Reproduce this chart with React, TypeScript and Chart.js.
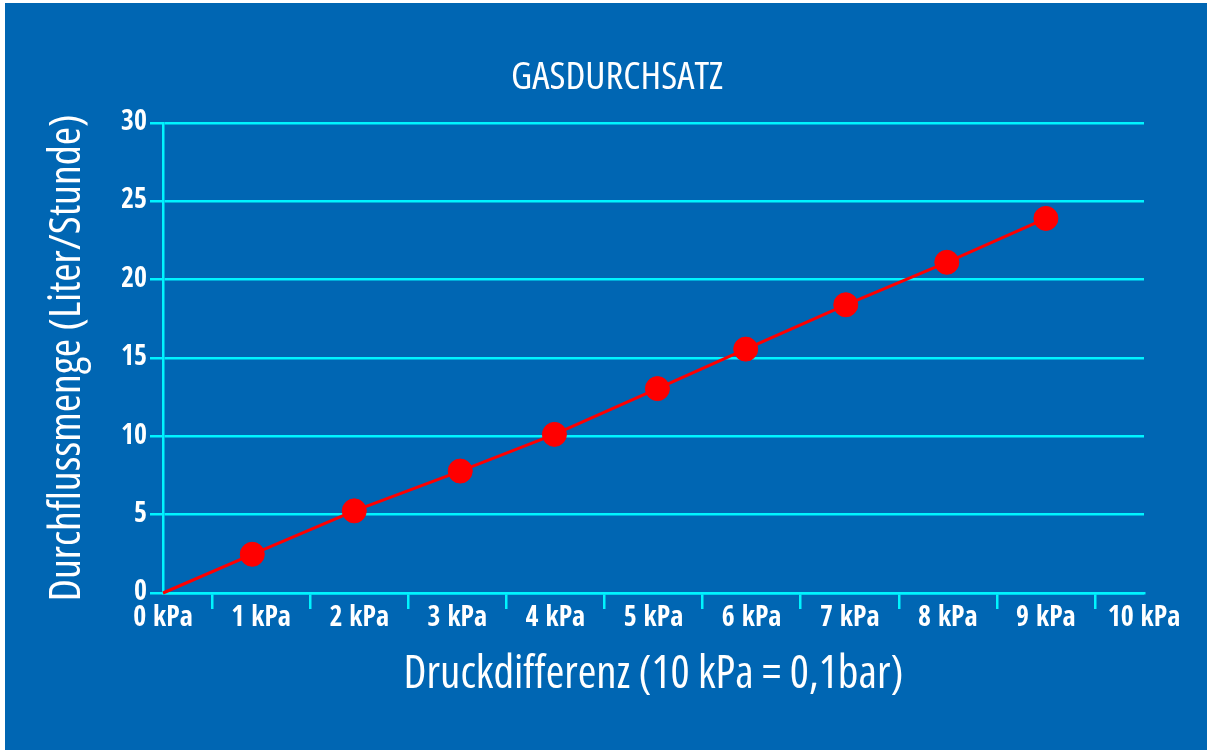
import React, { useEffect, useRef } from "react";
import { Chart, registerables } from "chart.js";

Chart.register(...registerables);

// ---- data ----
const chartTitle = "GASDURCHSATZ";
const xAxisTitle = "Druckdifferenz (10 kPa = 0,1bar)";
const yAxisTitle = "Durchflussmenge (Liter/Stunde)";
const pressureKPa = [0, 0.91, 1.95, 3.03, 3.99, 5.04, 5.94, 6.96, 7.99, 9.0];
const flowLiterPerHour = [0, 2.47, 5.24, 7.78, 10.12, 13.04, 15.56, 18.39, 21.1, 23.9];
const xMin = 0;
const xMax = 10;
const xStep = 1;
const yMin = 0;
const yMax = 30;
const yStep = 5;
const xTickUnit = "kPa";

// ---- style ----
const BG = "#0066b3";
const GRID = "#00f4ff";
const RED = "#ff0000";
const WHITE = "#ffffff";
const TEXT_FONT = "'Open Sans', 'Roboto Condensed', sans-serif";
const TICK_FONT = "'Open Sans Condensed', 'Roboto Condensed', sans-serif";
const W = 1202;
const H = 747;

const bgPlugin = {
  id: "bgFill",
  beforeDraw(chart: any) {
    const { ctx, width, height } = chart;
    ctx.save();
    ctx.fillStyle = BG;
    ctx.fillRect(0, 0, width, height);
    ctx.restore();
  },
};

export default function App() {
  const ref = useRef<HTMLCanvasElement | null>(null);

  useEffect(() => {
    document.body.style.margin = "0";
    if (!ref.current) return;
    const data = pressureKPa.map((x, i) => ({ x, y: flowLiterPerHour[i] }));
    const radii = data.map((_, i) => (i === 0 ? 0 : 12));
    const chart = new Chart(ref.current, {
      type: "line",
      data: {
        datasets: [
          {
            data,
            borderColor: RED,
            backgroundColor: RED,
            borderWidth: 3,
            pointRadius: radii,
            pointHoverRadius: radii,
            pointBorderWidth: 1,
            pointBorderColor: RED,
            pointBackgroundColor: RED,
            tension: 0,
            clip: false as any,
          },
        ],
      },
      options: {
        responsive: false,
        animation: false,
        devicePixelRatio: 1,
        layout: { padding: { left: 85, top: 0, right: 63, bottom: 0 } },
        plugins: {
          legend: { display: false },
          tooltip: { enabled: false },
          title: {
            display: true,
            text: chartTitle,
            color: WHITE,
            font: { family: TEXT_FONT, size: 39, weight: "500 condensed", lineHeight: 1.2 },
            padding: { top: 51, bottom: 22 },
          },
        },
        scales: {
          x: {
            type: "linear",
            min: xMin,
            max: xMax,
            afterFit(scale: any) {
              scale.height = 157;
            },
            ticks: {
              stepSize: xStep,
              color: WHITE,
              padding: -7,
              maxRotation: 0,
              autoSkip: false,
              font: { family: TICK_FONT, size: 28, weight: "bold", lineHeight: 1.2 },
              callback: (v: any) => `${v} ${xTickUnit}`,
            },
            grid: {
              offset: true,
              drawOnChartArea: false,
              drawTicks: true,
              tickLength: 16,
              color: GRID,
              lineWidth: 2.5,
            },
            border: { display: true, color: GRID, width: 2.5 },
            title: {
              display: true,
              text: xAxisTitle,
              color: WHITE,
              font: { family: TEXT_FONT, size: 45, weight: "500 condensed", lineHeight: 1.2 },
              padding: { top: 0, bottom: 48 },
            },
          },
          y: {
            type: "linear",
            min: yMin,
            max: yMax,
            afterFit(scale: any) {
              scale.width = 73;
            },
            ticks: {
              stepSize: yStep,
              color: WHITE,
              padding: 3,
              font: { family: TICK_FONT, size: 28, weight: "bold", lineHeight: 1.2 },
            },
            grid: {
              color: GRID,
              lineWidth: 2.5,
              tickLength: 13,
              drawTicks: true,
            },
            border: { display: true, color: GRID, width: 2.5 },
            title: {
              display: true,
              text: yAxisTitle,
              color: WHITE,
              font: { family: TEXT_FONT, size: 44, weight: "500 condensed", lineHeight: 1.2 },
              padding: { top: -49, bottom: 0 },
            },
          },
        },
      },
      plugins: [bgPlugin],
    } as any);
    return () => chart.destroy();
  }, []);

  return (
    <div style={{ padding: "3px 0 0 5px", background: "#ffffff" }}>
      <canvas ref={ref} width={W} height={H} style={{ display: "block", width: W, height: H }} />
    </div>
  );
}
